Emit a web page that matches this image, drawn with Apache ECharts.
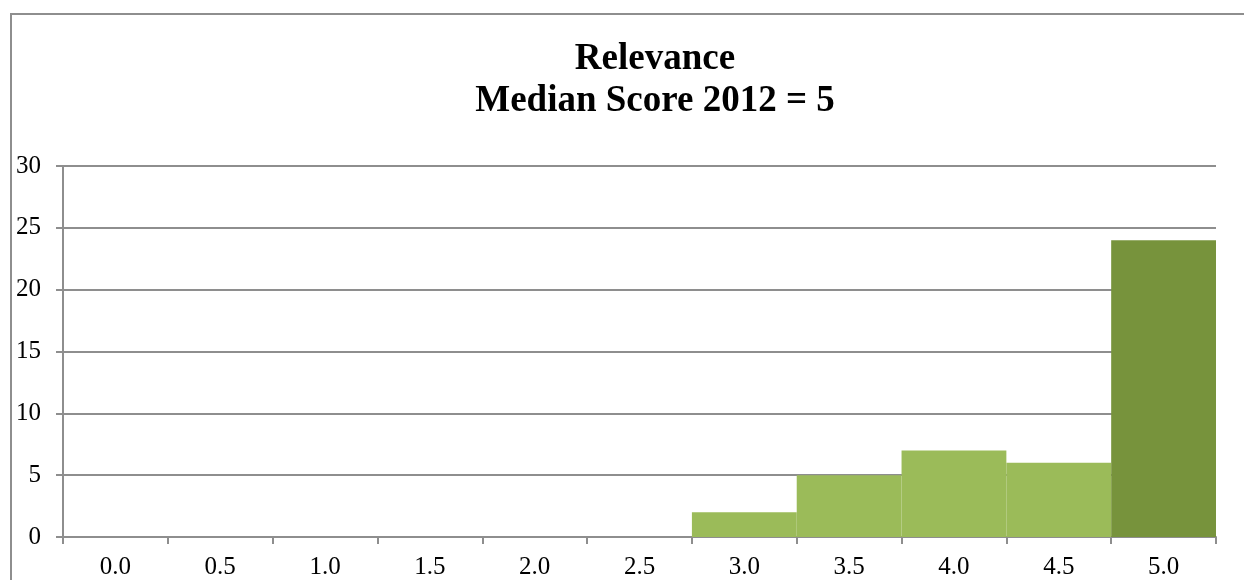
<!DOCTYPE html>
<html><head><meta charset="utf-8">
<script src="https://cdn.jsdelivr.net/npm/echarts@6/dist/echarts.min.js"></script>
<style>
html,body{margin:0;padding:0;background:#fff;overflow:hidden;}
#frame{position:absolute;left:10px;top:13px;width:1260px;height:600px;border:2px solid #8e8e8e;box-sizing:border-box;}
#chart{position:absolute;left:0;top:0;width:1244px;height:580px;}
</style></head>
<body>
<div id="frame"></div>
<div id="chart"></div>
<script>
const categories = ['0.0','0.5','1.0','1.5','2.0','2.5','3.0','3.5','4.0','4.5','5.0'];
const counts = [0,0,0,0,0,0,2,5,7,6,24];
const medianIndex = 10;
const titleLines = ['Relevance','Median Score 2012 = 5'];
const yTicks = {min:0,max:30,interval:5};

const chart = echarts.init(document.getElementById('chart'));
chart.setOption({
  animation:false,
  backgroundColor:'transparent',
  title:{
    text:titleLines.join('\n'),
    left:650, top:33, textAlign:'center',
    textStyle:{fontFamily:'Liberation Serif',fontWeight:'bold',fontSize:37,lineHeight:42,color:'#000'}
  },
  grid:{left:63,right:28,top:166,bottom:42,containLabel:false},
  xAxis:{
    type:'category',data:categories,
    axisLine:{lineStyle:{color:'#8e8e8e',width:2}},
    axisTick:{show:true,alignWithLabel:false,length:7,lineStyle:{color:'#8e8e8e',width:2}},
    axisLabel:{fontFamily:'Liberation Serif',fontSize:25,color:'#000',margin:18,interval:0}
  },
  yAxis:{
    type:'value',min:yTicks.min,max:yTicks.max,interval:yTicks.interval,
    axisLine:{show:true,lineStyle:{color:'#8e8e8e',width:2}},
    axisTick:{show:true,length:7,lineStyle:{color:'#8e8e8e',width:2}},
    splitLine:{lineStyle:{color:'#8e8e8e',width:2}},
    axisLabel:{fontFamily:'Liberation Serif',fontSize:25,color:'#000',margin:22}
  },
  series:[{
    type:'bar',barCategoryGap:'0%',
    data:counts.map((v,i)=>({value:v,itemStyle:{color:i===medianIndex?'#77933C':'#9BBB59'}}))
  }]
});
</script>
</body></html>
